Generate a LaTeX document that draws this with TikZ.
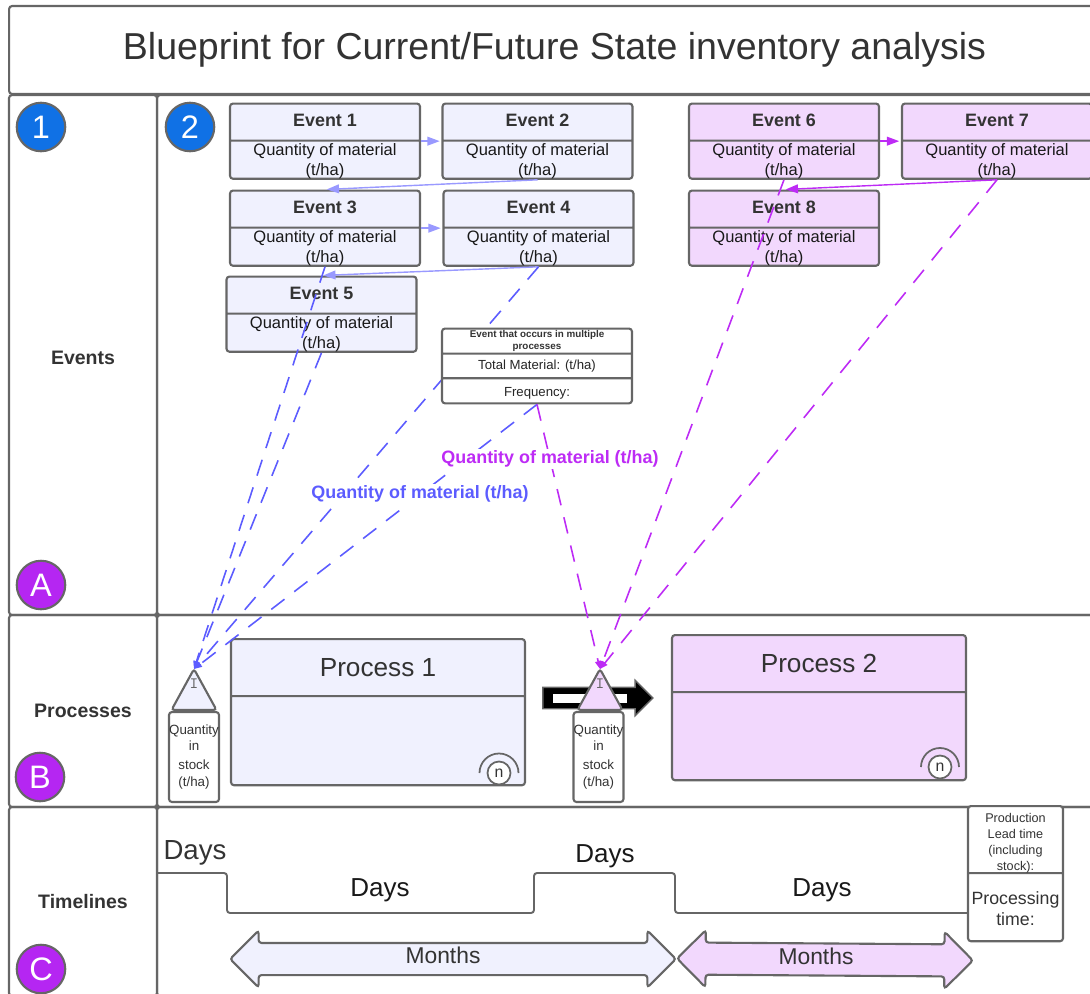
\documentclass[tikz,border=0pt]{standalone}
\usepackage{fontspec}
\setmainfont{Liberation Sans}
\usetikzlibrary{arrows.meta,shapes.geometric,shapes.arrows,shapes.multipart}

\definecolor{linegrey}{HTML}{666666}
\definecolor{textgrey}{HTML}{333333}
\definecolor{paleblue}{HTML}{F0F1FE}
\definecolor{palepurple}{HTML}{F2D8FD}
\definecolor{arrowblue}{HTML}{9999FF}
\definecolor{dashblue}{HTML}{5C5CFF}
\definecolor{dashpurple}{HTML}{BD2BF5}
\definecolor{markblue}{HTML}{1071E5}
\definecolor{markpurple}{HTML}{B526F2}

\newcommand{\cellbox}[3]{\parbox[c][#2][c]{#1}{\centering #3}}
\newcommand{\fsize}[2]{\fontsize{#1}{#2}\selectfont}

\begin{document}
\begin{tikzpicture}
		[
			x=0.02cm,
			y=-0.02cm,
			box/.style={draw=linegrey,line width=1.2pt,rounded corners=1.7pt,inner sep=0pt,text=textgrey},
			framebox/.style={box,minimum width=#1},
			splitbox/.style={box,rectangle split,rectangle split parts=2,anchor=north},
			eventbox/.style={splitbox,text=black!90},
			stockbox/.style={box,minimum width=1cm,minimum height=1.8cm,align=center,font=\fsize{7.6}{9.1}},
			tribox/.style={box,outer sep=0pt,isosceles triangle,isosceles triangle stretches,shape border rotate=90,minimum width=0.9cm,minimum height=0.82cm,anchor=apex},
			trimark/.style={inner sep=0pt,text=linegrey,font=\ttfamily\fsize{9}{9}},
			rowname/.style={font=\bfseries\fsize{11.1}{13},text=textgrey},
			badge/.style={circle,draw=linegrey,line width=1.2pt,minimum size=0.97cm,inner sep=0pt,text=white,font=\fsize{18.5}{20}},
			loopnode/.style={circle,draw=linegrey,line width=1pt,fill=white,minimum size=0.46cm,inner sep=0pt,text=textgrey,font=\fsize{9}{10}},
			loopline/.style={draw=linegrey,line width=1pt},
			days/.style={font=\fsize{14.8}{16},text=black!90},
			months/.style={box,double arrow,double arrow tip angle=90,inner ysep=0.3cm,minimum width=1.12cm},
			monthtext/.style={inner sep=0pt,text=textgrey,font=\fsize{13}{14}},
			flow/.style={-{Triangle[length=7pt,width=5pt]},line width=0.8pt,shorten >=1pt},
			pull/.style={-{Triangle[length=4.5pt,width=3.5pt]},line width=0.9pt,dash pattern=on 9.5pt off 7pt},
			linklabel/.style={fill=white,inner sep=1pt,font=\bfseries\fsize{10.2}{12}}
		]

		\path[use as bounding box,clip] (0,0) rectangle (1090,994);

		% frame
		\node[framebox=21.82cm,minimum height=1.76cm,font=\fsize{21.35}{24}] (Title) at (554.5,50) {Blueprint for Current/Future State inventory analysis};
		\node[framebox=2.96cm,minimum height=10.4cm,rowname,text height=10.5pt] (EventsRow) at (83,355) {Events};
		\node[framebox=18.86cm,minimum height=10.4cm] (EventsLane) at (628.5,355) {};
		\node[framebox=2.96cm,minimum height=3.84cm,rowname] (ProcessRow) at (83,711) {Processes};
		\node[framebox=18.86cm,minimum height=3.84cm] (ProcessLane) at (628.5,711) {};
		\node[framebox=2.96cm,minimum height=3.78cm,rowname] (TimeRow) at (83,901.5) {Timelines};
		\node[framebox=18.86cm,minimum height=3.78cm] (TimeLane) at (628.5,901.5) {};

		% badges
		\foreach \name/\x/\y/\colour/\txt in
		{One/41/127/markblue/1,Two/190/127/markblue/2,LetterA/41/585/markpurple/A,LetterB/40/777/markpurple/B,LetterC/41/969/markpurple/C}
		\node[badge,fill=\colour] (\name) at (\x,\y) {\txt};

		% events
		\foreach \name/\x/\y/\txt in
		{E1/325/102.5/Event 1,E2/537.5/102.5/Event 2,E3/325/189.5/Event 3,E4/538.5/189.5/Event 4,E5/321.5/275.5/Event 5}
		\node[eventbox,fill=paleblue] (\name) at (\x,\y)
			{\cellbox{3.8cm}{0.70cm}{\raisebox{0.08cm}{\bfseries\fsize{10.2}{12}\color{textgrey}\txt}}\nodepart{two}\cellbox{3.8cm}{0.72cm}{\vspace*{0.06cm}\fsize{9.4}{11.4}Quantity of material\\(t/ha)}};
		\foreach \name/\x/\y/\txt in
		{E6/784/102.5/Event 6,E7/997/102.5/Event 7,E8/784/189.5/Event 8}
		\node[eventbox,fill=palepurple] (\name) at (\x,\y)
			{\cellbox{3.8cm}{0.70cm}{\raisebox{0.08cm}{\bfseries\fsize{10.2}{12}\color{textgrey}\txt}}\nodepart{two}\cellbox{3.8cm}{0.72cm}{\vspace*{0.06cm}\fsize{9.4}{11.4}Quantity of material\\(t/ha)}};

		% processes
		\node[splitbox,fill=paleblue] (P1) at (378,638)
			{\cellbox{5.88cm}{1.10cm}{\fsize{14.9}{17}Process 1}\nodepart{two}\cellbox{5.88cm}{1.74cm}{}};
		\node[splitbox,fill=palepurple] (P2) at (819,634)
			{\cellbox{5.88cm}{1.10cm}{\fsize{14.9}{17}Process 2}\nodepart{two}\cellbox{5.88cm}{1.72cm}{}};
		\node[loopnode] (N1) at (499,773) {n};
		\node[loopnode] (N2) at (940,767) {n};
		\draw[loopline] (N1.center) ++(-19.5,0) arc (180:360:19.5);
		\draw[loopline] (N2.center) ++(-19,0) arc (180:360:19);

		% push arrow
		\node[single arrow,draw=linegrey,fill=black,line width=0.8pt,inner xsep=0pt,inner ysep=0.2cm,minimum height=2.2cm,single arrow head extend=0.14cm,single arrow tip angle=90] (Push) at (592.5,698) {};
		\node[fill=white,inner sep=0pt,minimum width=1.48cm,minimum height=0.18cm] (PushCore) at (590,698.5) {};

		% stock
		\node[tribox,fill=paleblue] (T1) at (194,669) {};
		\node[tribox,fill=palepurple] (T2) at (600,669) {};
		\node[trimark] (I1) at (194,684) {I};
		\node[trimark] (I2) at (600,684) {I};
		\node[stockbox] (S1) at (194,757) {Quantity\\in\\[1.7pt]stock\\[1pt](t/ha)};
		\node[stockbox,fill=white] (S2) at (598.5,757) {Quantity\\in\\[1.7pt]stock\\[1pt](t/ha)};

		% transitions
		\foreach \from/\to in {E1.east/E2.west,E2.south/E3.north,E3.east/E4.west,E4.south/E5.north}
		\draw[flow,arrowblue] (\from) -- (\to);
		\foreach \from/\to in {E6.east/E7.west,E7.south/E8.north}
		\draw[flow,dashpurple] (\from) -- (\to);

		% pull lines
		\foreach \from in {E3.south,E4.south,E5.south}
		\draw[pull,dashblue] (\from) -- (T1.apex);
		\foreach \from in {E6.south,E7.south}
		\draw[pull,dashpurple] (\from) -- (T2.apex);

		% shared event
		\node[box,fill=white,rectangle split,rectangle split parts=3,anchor=north] (Shared) at (537,327.5)
			{\cellbox{3.8cm}{0.46cm}{\bfseries\fsize{5.6}{6.6}Event that occurs in multiple\\processes}\nodepart{two}\cellbox{3.8cm}{0.45cm}{\fsize{7.5}{9}\color{black!85}Total Material: (t/ha)}\nodepart{three}\cellbox{3.8cm}{0.46cm}{\vspace*{0.1cm}\fsize{7.5}{9}\color{black!85}Frequency:}};
		\draw[pull,dashblue] (Shared.south) -- (T1.apex);
		\draw[pull,dashpurple] (Shared.south) -- (T2.apex);
		\node[linklabel,text=dashblue] (BlueLabel) at (420,494) {Quantity of material (t/ha)};
		\node[linklabel,text=dashpurple] (PurpleLabel) at (550,459) {Quantity of material (t/ha)};

		% timeline
		\draw[draw=linegrey,line width=1.1pt,rounded corners=1.7pt] (157,873) -- (227,873) -- (227,913) -- (534,913) -- (534,873) -- (675,873) -- (675,913) -- (968,913);
		\node[days,text=textgrey,font=\fsize{15.7}{17}] (D1) at (195,853) {Days};
		\node[days] (D2) at (380,890) {Days};
		\node[days] (D3) at (605,856) {Days};
		\node[days] (D4) at (822,890) {Days};

		% lead time
		\node[splitbox,fill=white] (Lead) at (1015.5,805)
			{\cellbox{1.9cm}{1.30cm}{\vspace*{0.14cm}\fsize{7.2}{9.1}Production\\Lead time\\(including\\stock):}\nodepart{two}\cellbox{1.9cm}{1.32cm}{\vspace*{0.06cm}\fsize{10.1}{12.2}Processing\\time:}};

		% months
		\node[months,fill=paleblue,minimum height=8.92cm] (M1) at (453,959) {};
		\node[months,fill=palepurple,minimum height=5.92cm,rotate=-0.4] (M2) at (825,959.5) {};
		\node[monthtext] (M1Text) at (443,955) {Months};
		\node[monthtext] (M2Text) at (816,956) {Months};

	\end{tikzpicture}
\end{document}
